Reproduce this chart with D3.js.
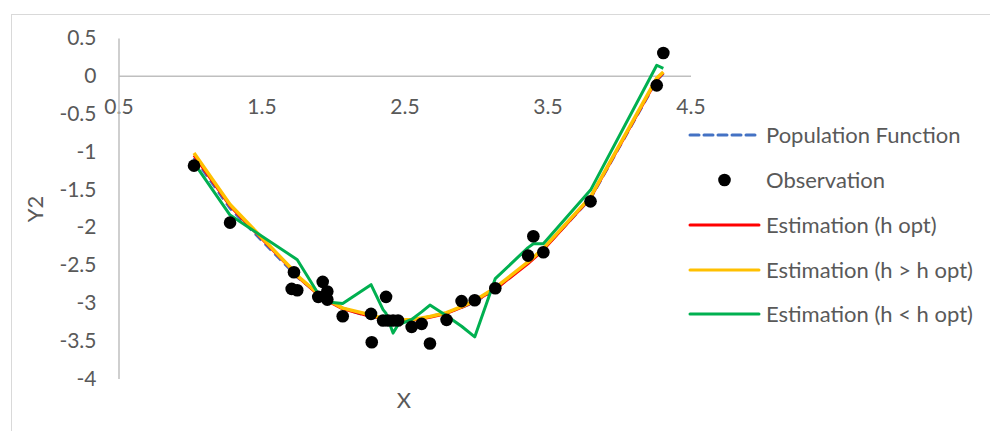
<!DOCTYPE html>
<html>
<head>
<meta charset="utf-8">
<script src="https://cdn.jsdelivr.net/npm/d3@7"></script>
<style>
  body { margin: 0; background: #fff; }
  svg { display: block; font-family: Lato, "Open Sans", sans-serif; }
</style>
</head>
<body>
<svg id="chart" width="990" height="431"></svg>
<script>
// x positions where the curves are evaluated (same as the observations, sorted)
var gridX = [1.028, 1.280, 1.711, 1.727, 1.750, 1.897, 1.928, 1.960, 1.960, 2.068,
  2.266, 2.271, 2.350, 2.371, 2.385, 2.420, 2.455, 2.550, 2.620, 2.678,
  2.794, 2.899, 2.991, 3.135, 3.364, 3.401, 3.471, 3.801, 4.264, 4.310];

var observationY = [-1.187, -1.940, -2.816, -2.596, -2.834, -2.921, -2.723, -2.851, -2.957, -3.178,
  -3.146, -3.521, -3.234, -2.921, -3.234, -3.234, -3.234, -3.318, -3.278, -3.538,
  -3.225, -2.977, -2.966, -2.808, -2.376, -2.121, -2.332, -1.659, -0.126, 0.302];

var populationY = [-1.08, -1.75, -2.58, -2.61, -2.66, -2.88, -2.92, -2.96, -2.96, -3.07,
  -3.19, -3.19, -3.22, -3.23, -3.23, -3.24, -3.24, -3.23, -3.21, -3.18,
  -3.13, -3.06, -2.99, -2.82, -2.47, -2.41, -2.29, -1.62, -0.06, 0.03];

var estOptY = [-1.05, -1.72, -2.56, -2.60, -2.65, -2.89, -2.93, -2.97, -2.97, -3.08,
  -3.18, -3.18, -3.21, -3.22, -3.23, -3.24, -3.24, -3.23, -3.21, -3.19,
  -3.14, -3.06, -2.98, -2.82, -2.48, -2.42, -2.30, -1.61, -0.05, 0.04];

var estBigY = [-1.02, -1.70, -2.55, -2.59, -2.64, -2.88, -2.92, -2.96, -2.96, -3.07,
  -3.16, -3.17, -3.20, -3.21, -3.22, -3.23, -3.23, -3.22, -3.20, -3.18,
  -3.13, -3.05, -2.97, -2.80, -2.46, -2.40, -2.28, -1.60, -0.03, 0.05];

var estSmallY = [-1.15, -1.84, -2.38, -2.40, -2.43, -2.88, -2.93, -2.98, -2.99, -3.01,
  -2.76, -2.78, -3.09, -3.14, -3.22, -3.40, -3.29, -3.22, -3.12, -3.03,
  -3.17, -3.31, -3.45, -2.68, -2.27, -2.22, -2.22, -1.51, 0.14, 0.10];

var xTicks = [0.5, 1.5, 2.5, 3.5, 4.5];
var yTicks = [0.5, 0, -0.5, -1, -1.5, -2, -2.5, -3, -3.5, -4];

var svg = d3.select('#chart');
var textColor = '#595959';

// outer chart border (only left/top fall inside the picture)
svg.append('rect')
  .attr('x', 11.5).attr('y', 14.5)
  .attr('width', 1100).attr('height', 600)
  .attr('fill', 'none').attr('stroke', '#d9d9d9').attr('stroke-width', 1);

var x = d3.scaleLinear().domain([0.5, 4.5]).range([118.5, 690.5]);
var y = d3.scaleLinear().domain([-4, 0.5]).range([378.5, 38]);

var fmt = function(d){ return String(d); };

var xAxis = svg.append('g')
  .attr('transform', 'translate(0,' + y(0) + ')')
  .call(d3.axisBottom(x).tickValues(xTicks).tickSize(0).tickPadding(23).tickFormat(fmt));
xAxis.select('.domain').attr('stroke', '#bfbfbf').attr('stroke-width', 1.5);

var yAxis = svg.append('g')
  .attr('transform', 'translate(' + x(0.5) + ',0)')
  .call(d3.axisLeft(y).tickValues(yTicks).tickSize(0).tickPadding(22).tickFormat(fmt));
yAxis.select('.domain').attr('stroke', '#bfbfbf').attr('stroke-width', 1.5);

svg.selectAll('.tick text')
  .attr('fill', textColor)
  .style('font-size', '21px')
  .style('font-family', 'Lato, "Open Sans", sans-serif');

// axis titles
svg.append('text')
  .attr('x', 404).attr('y', 408)
  .attr('text-anchor', 'middle')
  .attr('fill', textColor).style('font-size', '22px')
  .text('X');

svg.append('text')
  .attr('transform', 'translate(43,209) rotate(-90)')
  .attr('text-anchor', 'middle')
  .attr('fill', textColor).style('font-size', '22px')
  .text('Y2');

var line = d3.line()
  .x(function(d){ return x(d[0]); })
  .y(function(d){ return y(d[1]); });

function pairs(ys){
  return gridX.map(function(v, i){ return [v, ys[i]]; });
}

var series = [
  {name: 'Population Function', ys: populationY, color: '#4472c4', dash: '9,5', width: 3},
  {name: 'Estimation (h opt)', ys: estOptY, color: '#ff0000', dash: null, width: 3},
  {name: 'Estimation (h > h opt)', ys: estBigY, color: '#ffc000', dash: null, width: 3.5},
  {name: 'Estimation (h < h opt)', ys: estSmallY, color: '#00b050', dash: null, width: 3}
];

series.forEach(function(s){
  svg.append('path')
    .datum(pairs(s.ys))
    .attr('d', line)
    .attr('fill', 'none')
    .attr('stroke', s.color)
    .attr('stroke-width', s.width)
    .attr('stroke-linejoin', 'round')
    .attr('stroke-dasharray', s.dash);
});

// observations on top
svg.append('g')
  .selectAll('circle').data(pairs(observationY)).enter()
  .append('circle')
  .attr('cx', function(d){ return x(d[0]); })
  .attr('cy', function(d){ return y(d[1]); })
  .attr('r', 6.3)
  .attr('fill', '#000');

// legend
var legend = [
  {label: 'Population Function', type: 'line', color: '#4472c4', dash: '9,5', y: 135},
  {label: 'Observation', type: 'dot', color: '#000', y: 180},
  {label: 'Estimation (h opt)', type: 'line', color: '#ff0000', y: 225},
  {label: 'Estimation (h > h opt)', type: 'line', color: '#ffc000', y: 270},
  {label: 'Estimation (h < h opt)', type: 'line', color: '#00b050', y: 314}
];

var lg = svg.append('g');
legend.forEach(function(l){
  if (l.type == 'line') {
    lg.append('line')
      .attr('x1', 690).attr('x2', 759)
      .attr('y1', l.y).attr('y2', l.y)
      .attr('stroke', l.color).attr('stroke-width', 3)
      .attr('stroke-linecap', 'round')
      .attr('stroke-dasharray', l.dash || null);
  } else {
    lg.append('circle')
      .attr('cx', 724.5).attr('cy', l.y).attr('r', 6.3)
      .attr('fill', l.color);
  }
  lg.append('text')
    .attr('x', 766).attr('y', l.y)
    .attr('dy', '0.35em')
    .attr('fill', textColor).style('font-size', '22px')
    .text(l.label);
});
</script>
</body>
</html>
